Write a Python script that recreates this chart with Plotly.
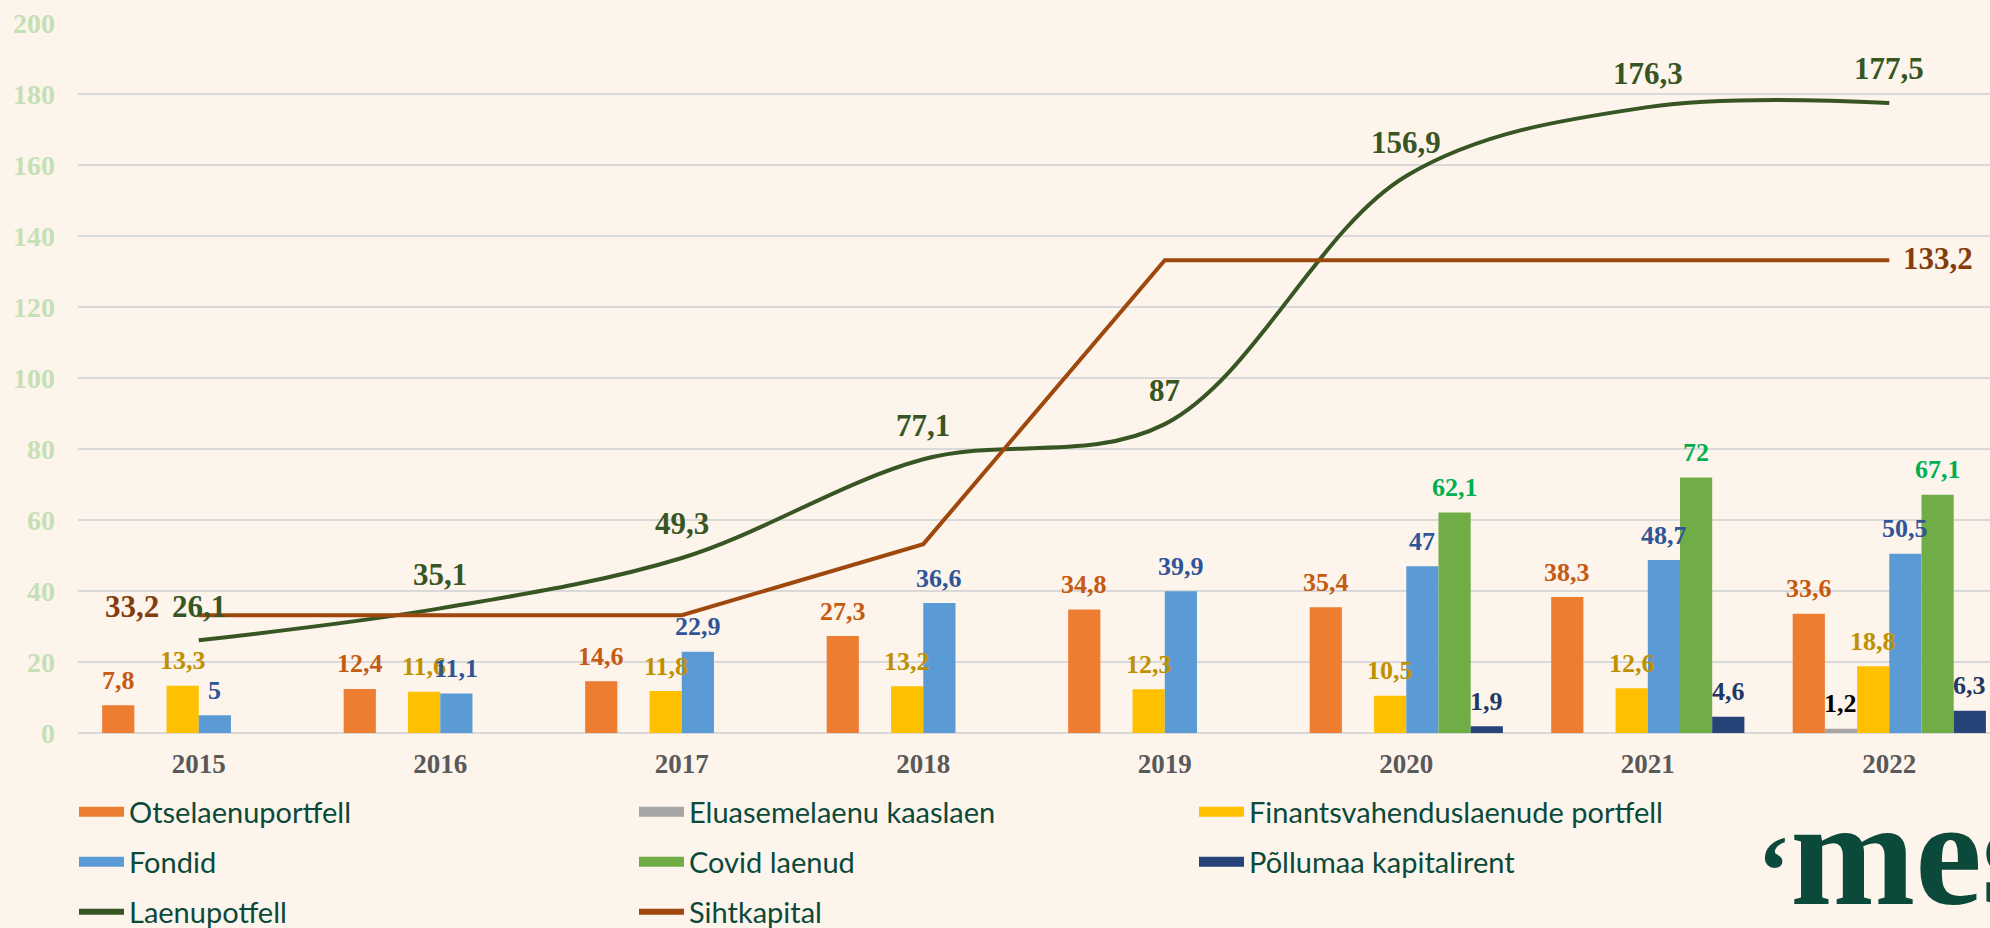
import plotly.graph_objects as go

years = ["2015", "2016", "2017", "2018", "2019", "2020", "2021", "2022"]

otselaen = [7.8, 12.4, 14.6, 27.3, 34.8, 35.4, 38.3, 33.6]
eluasemelaen = [None, None, None, None, None, None, None, 1.2]
finantsvahendus = [13.3, 11.6, 11.8, 13.2, 12.3, 10.5, 12.6, 18.8]
fondid = [5, 11.1, 22.9, 36.6, 39.9, 47, 48.7, 50.5]
covid = [None, None, None, None, None, 62.1, 72, 67.1]
pollumaa = [None, None, None, None, None, 1.9, 4.6, 6.3]
laenuportfell = [26.1, 35.1, 49.3, 77.1, 87, 156.9, 176.3, 177.5]
sihtkapital = [33.2, 33.2, 33.2, 53.2, 133.2, 133.2, 133.2, 133.2]

y_ticks = [0, 20, 40, 60, 80, 100, 120, 140, 160, 180, 200]

SERIF = "Times New Roman, Liberation Serif, serif"
SANS = "Lato, Noto Sans, sans-serif"
BG = "#FDF4EC"

W, H = 1990, 928
ML, MR, MT, MB = 78, 0, 23, 195
XRANGE = [-0.5, 7.417]
BARGAP = 0.2


def fmt(v):
    s = ("%.1f" % v).rstrip("0").rstrip(".")
    return s.replace(".", ",")


bar_specs = [
    ("Otselaenuportfell", otselaen, "#ED7D31", "#C55A11", "legend"),
    ("Eluasemelaenu kaaslaen", eluasemelaen, "#A5A5A5", "#000000", "legend"),
    ("Finantsvahenduslaenude portfell", finantsvahendus, "#FFC000", "#BF9000", "legend"),
    ("Fondid", fondid, "#5B9BD5", "#2F5597", "legend2"),
    ("Covid laenud", covid, "#70AD47", "#00B050", "legend2"),
    ("Põllumaa kapitalirent", pollumaa, "#264478", "#1F3864", "legend2"),
]
line_specs = [
    ("Laenupotfell", laenuportfell, "#375623", "spline"),
    ("Sihtkapital", sihtkapital, "#9E480E", "linear"),
]

fig = go.Figure()
for name, vals, col, tcol, leg in bar_specs:
    fig.add_trace(go.Bar(
        x=years, y=vals, name=name, marker=dict(color=col, line=dict(width=0)),
        showlegend=False,
    ))

for name, vals, col, shape in line_specs:
    fig.add_trace(go.Scatter(
        x=years, y=vals, name=name, mode="lines",
        line=dict(color=col, width=4, shape=shape, smoothing=1.0),
        showlegend=False,
    ))

# legend entries (wide colour swatches like the original)
for name, vals, col, tcol, leg in bar_specs:
    fig.add_trace(go.Scatter(
        x=[None], y=[None], name=name, mode="lines",
        line=dict(color=col, width=17), legend=leg, hoverinfo="skip",
    ))
for name, vals, col, shape in line_specs:
    fig.add_trace(go.Scatter(
        x=[None], y=[None], name=name, mode="lines",
        line=dict(color=col, width=6), legend="legend3", hoverinfo="skip",
    ))

# bar value labels (drawn on top of all bars)
unit_px = (W - ML - MR) / (XRANGE[1] - XRANGE[0])
n_bars = len(bar_specs)
bar_px = unit_px * (1 - BARGAP) / n_bars
for k, (name, vals, col, tcol, leg) in enumerate(bar_specs):
    for i, v in enumerate(vals):
        if v is None:
            continue
        fig.add_annotation(x=i, y=v, text=fmt(v), showarrow=False,
                           xshift=(k - (n_bars - 1) / 2) * bar_px, yshift=25,
                           yanchor="middle",
                           font=dict(family=SERIF, size=26, color=tcol, weight="bold"))

# line value labels
for i, v in enumerate(laenuportfell):
    fig.add_annotation(x=i, y=v, text=fmt(v), showarrow=False, yshift=34,
                       font=dict(family=SERIF, size=31, color="#375623", weight="bold"))
fig.add_annotation(x=0, y=sihtkapital[0], text=fmt(sihtkapital[0]), showarrow=False,
                   xanchor="right", xshift=-38, yshift=9,
                   font=dict(family=SERIF, size=31, color="#843C0C", weight="bold"))
fig.add_annotation(x=len(years) - 1, y=sihtkapital[-1], text=fmt(sihtkapital[-1]), showarrow=False,
                   xanchor="left", xshift=12, yshift=2,
                   font=dict(family=SERIF, size=31, color="#843C0C", weight="bold"))

# logo
fig.add_annotation(xref="paper", yref="paper", x=(1755 - ML) / (W - ML - MR), y=-0.169,
                   xanchor="left", yanchor="middle",
                   text="<span style='font-size:100px'>‘</span>mes", showarrow=False,
                   font=dict(family=SERIF, size=150, color="#0B4A3A", weight="bold"))

leg_common = dict(orientation="h", xanchor="left", yanchor="middle", x=-0.0021,
                  entrywidth=500, entrywidthmode="pixels", itemwidth=45,
                  font=dict(family=SANS, size=29, color="#0B4A3A"),
                  bgcolor="rgba(0,0,0,0)", traceorder="normal")

fig.update_layout(
    width=W, height=H,
    paper_bgcolor=BG, plot_bgcolor=BG,
    margin=dict(l=ML, r=MR, t=MT, b=MB, autoexpand=False),
    barmode="group", bargap=BARGAP, bargroupgap=0,
    showlegend=True,
    legend=dict(leg_common, y=-0.1113),
    legend2=dict(leg_common, y=-0.1817),
    legend3=dict(leg_common, y=-0.2521),
    xaxis=dict(type="category", range=XRANGE, showgrid=False, zeroline=False,
               showline=False, ticks="", ticklabelstandoff=12,
               tickfont=dict(family=SERIF, size=27, color="#595959", weight="bold")),
    yaxis=dict(range=[0, 200], tickvals=y_ticks, showgrid=True, gridcolor="#D9D9D9",
               gridwidth=1.5, zeroline=True, zerolinecolor="#D9D9D9", zerolinewidth=1.5,
               ticks="", ticklabelstandoff=22,
               tickfont=dict(family=SERIF, size=28, color="#C5E0B4", weight="bold")),
)

fig.write_html(
    "out.html",
    config={"displayModeBar": False},
    post_script="document.body.style.margin='0px';document.body.style.overflow='hidden';"
                "document.body.style.background='" + BG + "';",
)
